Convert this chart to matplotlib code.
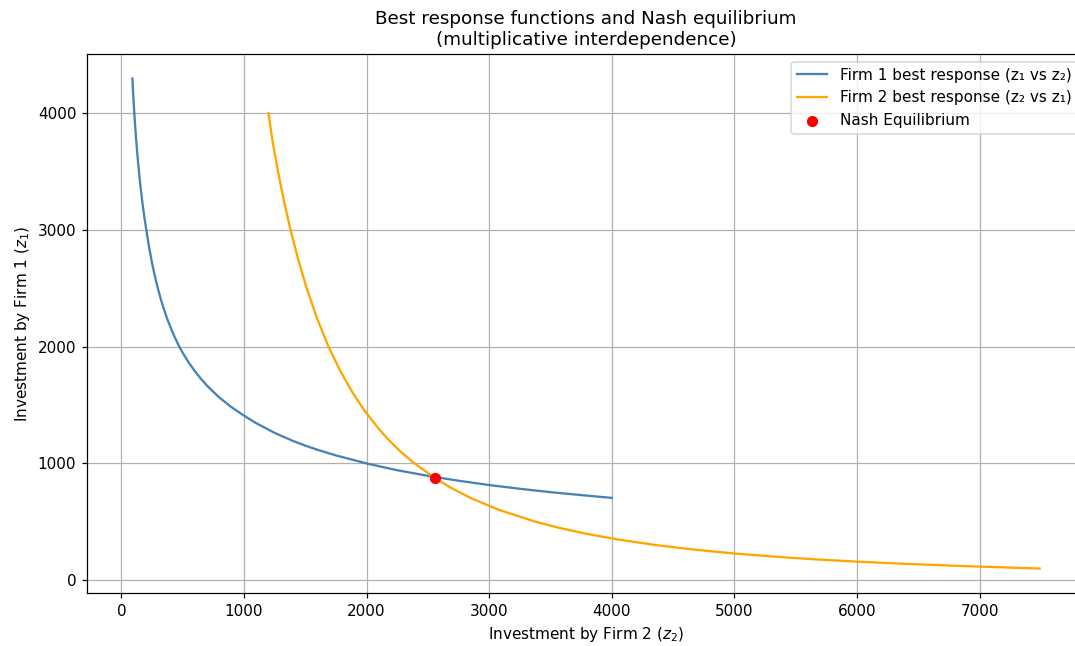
import numpy as np
import matplotlib
matplotlib.use("Agg")
import matplotlib.pyplot as plt

# Firm 1 best response: z1 as a function of z2
f1_z2 = [90, 95, 100, 106, 112, 118, 125, 135, 150, 160, 175, 190, 204, 225, 250,
         275, 300, 325, 350, 375, 400, 425, 473, 500, 550, 600, 650, 700, 800, 900,
         1000, 1100, 1250, 1400, 1500, 1600, 1750, 2000, 2250, 2500, 2750, 3000,
         3250, 3500, 3750, 4000]
f1_z1 = [4298, 4197, 4104, 4000, 3904, 3816, 3720, 3597, 3435, 3339, 3208, 3096,
         3000, 2862, 2719, 2598, 2491, 2397, 2314, 2237, 2171, 2106, 2000, 1949,
         1864, 1790, 1724, 1665, 1564, 1481, 1410, 1345, 1262, 1193, 1153, 1117,
         1069, 1000, 942, 894, 852, 815, 783, 754, 729, 705]

# Firm 2 best response: z2 as a function of z1
f2_z1 = [4000, 3750, 3500, 3250, 3000, 2750, 2500, 2250, 2000, 1800, 1600, 1450,
         1300, 1200, 1100, 1000, 874, 800, 700, 600, 500, 450, 400, 350, 300, 260,
         230, 200, 180, 160, 140, 125, 118, 108, 100]
f2_z2 = [1200, 1235, 1278, 1326, 1380, 1442, 1512, 1594, 1690, 1782, 1890, 1985,
         2097, 2182, 2279, 2391, 2560, 2673, 2857, 3086, 3381, 3564, 3780, 4041,
         4365, 4689, 4985, 5346, 5635, 5977, 6390, 6762, 6960, 7240, 7490]

nash_z2 = [2560]
nash_z1 = [878]

fig = plt.figure(figsize=(1075 / 110, 646 / 110), dpi=110)
ax = fig.add_axes([87 / 1075, 53 / 646, 998 / 1075, 539 / 646])

ax.plot(f1_z2, f1_z1, color="steelblue", label="Firm 1 best response (z\u2081 vs z\u2082)")
ax.plot(f2_z2, f2_z1, color="orange", label="Firm 2 best response (z\u2082 vs z\u2081)")
ax.scatter(nash_z2, nash_z1, color="red", s=40, zorder=5, label="Nash Equilibrium")

ax.set_xlabel("Investment by Firm 2 ($z_2$)")
ax.set_ylabel("Investment by Firm 1 ($z_1$)")
ax.set_title("Best response functions and Nash equilibrium\n(multiplicative interdependence)")
ax.grid(True)
ax.legend(loc="upper right")

fig.savefig("out.png", dpi=110)
